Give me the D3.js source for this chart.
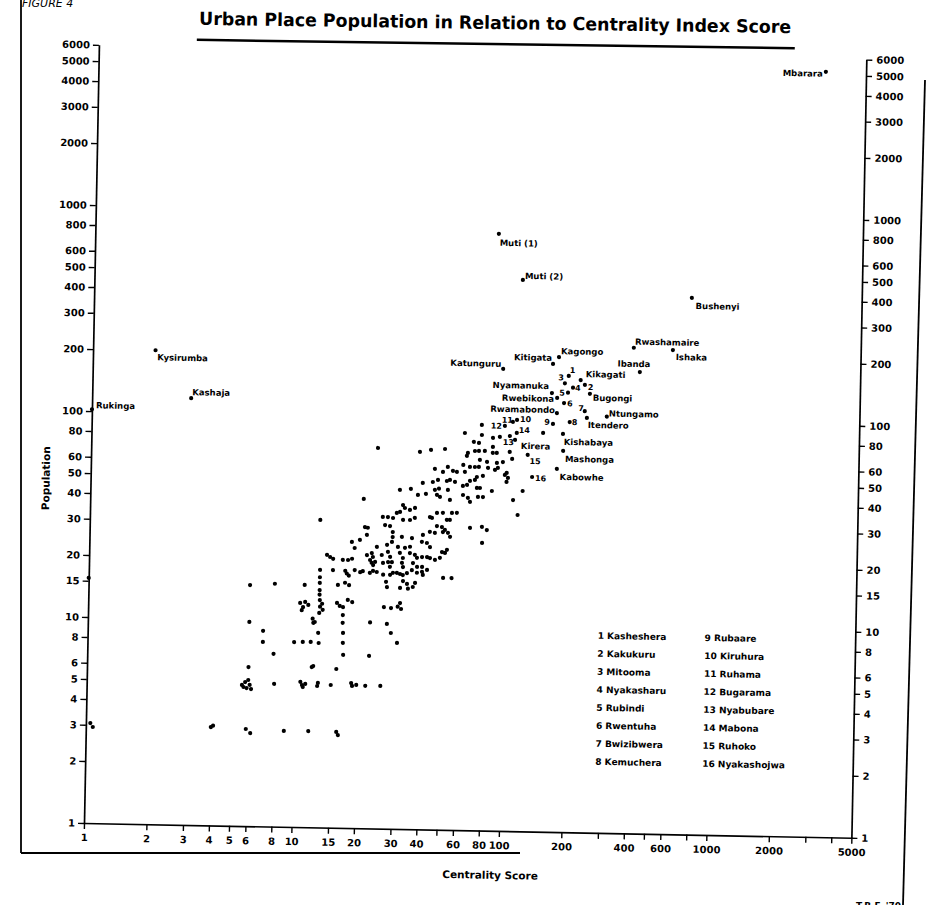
<!DOCTYPE html>
<meta charset="utf-8">
<script src="https://d3js.org/d3.v7.min.js"></script>
<style>
  body { margin: 0; background: #fff; }
  text { font-family: "DejaVu Sans", sans-serif; font-weight: bold; fill: #000; }
</style>
<svg id="chart" width="926" height="905"></svg>
<script>

// ---- data: [centrality score, population] ----
const yTicks = [1,2,3,4,5,6,8,10,15,20,30,40,50,60,80,100,200,300,400,500,600,800,1000,2000,3000,4000,5000,6000];
const xTicks = [1,2,3,4,5,6,8,10,15,20,30,40,50,60,80,100,200,300,400,500,600,800,1000,2000,3000,4000,5000];
const xTickLabels = [1,2,3,4,5,6,8,10,15,20,30,40,60,80,100,200,400,600,1000,2000,5000];

const towns = [
  [1.05,3.06],[1.08,2.93],[1,15.5],
  [4,3],[4.1,3.05],[5.9,2.96],[6.2,2.83],[9,2.92],[11.8,2.93],[16.1,2.92],[16.4,2.82],
  [5.6,4.84],[5.8,5.0],[6.0,5.12],[6.1,4.85],[5.9,4.68],[6.2,4.63],[5.7,4.73],
  [8,4.93],[10.7,5.07],[10.9,4.9],[11.3,4.96],[11,4.79],[12.9,4.86],[13,5.03],[15,4.93],[18.8,5.06],[19,4.9],[19.9,4.96],[22,4.92],[26,4.93],
  [12.1,6.0],[12.3,6.07],[15.9,5.9],[6,5.92],
  [7.9,6.9],[7,7.86],[7,8.9],[6,9.8],[9.9,7.9],[10.9,7.93],[11.9,7.94],[12.9,8.8],[13,7.86],
  [16.9,10.8],[16.9,9.9],[17,8.84],[17,7.91],[17.1,6.92],[22.8,6.88],[22.9,10],[27.6,9.87],[28.9,8.93],[31,8],
  [12.1,10.3],[12.2,9.83],[12.4,9.93],
  [10.5,12.25],[11.1,12.4],[10.85,11.7],[11.5,12.0],[10.7,11.3],[13.1,11.8],[13.4,12.2],[13.5,11.4],[13,11],
  [15.8,12.35],[16.3,11.95],[16.9,11.8],[17.8,12.8],[18.7,12.5],[26.6,11.9],[28.8,11.8],[31,12],[31.8,12.5],[32.2,11.7],
  [13,17.8],[13,16.4],[13,15.4],[13,14.2],[13,13.5],[13.05,12.7],
  [15,17.8],[17.2,17.7],[17.5,17.2],[17.9,16.8],[19.1,17.9],[20.3,17.5],[20.9,17.7],
  [15.9,15.1],[17.2,15.5],[18,15.1],
  [6,14.8],[7.9,15.1],[11,15],
  [27.1,15.8],[27.4,14.9],[31.7,14.8],[32.7,16],[34.2,15.5],[34.6,14.7],[36.5,15],[37.4,15.7],
  [51,16.7],[56,16.7],
  [22.6,17.4],[23.4,17.8],[24.4,17.6],[26.2,17.1],[28.3,17.1],[29.2,17.5],[30.5,17.5],[31.6,17.3],[32.6,17.1],[34.1,17.5],[36,18.1],[38.1,17.6],[40.3,17.8],[40.7,17.2],
  [26.1,19.5],[27.6,19.7],[28.2,18.7],[32.2,19.6],[32.6,18.7],[36.4,19.6],[38.1,18.8],[40.3,18.8],[42.6,18.2],[22.6,20.1],[23.9,19.7],[23.4,19],[23,19.5],
  [16.7,20],[17.7,20],[18.5,20.3],[14,21.1],[14.5,20.6],[15,20.2],
  [21.8,21.2],[23,21.7],[23.3,20.8],[25.7,21.3],[27.5,22.1],[28.2,20.9],[28.8,19.7],
  [31.4,21.9],[32.5,20.7],[35.1,21.9],[37.1,21.5],[38,20.8],[40.2,21],[42.5,21],[43.9,20.8],[46.4,20.4],[49,20.9],[52.9,22.9],[50.1,22.3],[51.8,22.1],
  [30.7,23.4],[33.2,23.2],[35.1,23.5],[24.3,23.3],[27.2,23.9],[19,22.9],[43.8,23.5],[18.4,24.5],[20.1,25.1],[40,24.9],[42.3,24.6],[78,24.9],
  [28.9,27.6],[28.9,26.1],[28.7,24.7],[32,26.2],[35.8,25.9],[40.4,26.9],[43.6,27.9],[46.1,27.6],[50.4,27.9],[53.3,27.7],[54.6,26.5],
  [21.2,29],[21.9,28.8],[21.7,26.6],[26.5,29.8],[28,29.5],[47.1,29.8],[49.8,29.5],[51.5,28.6],[68,29.4],[77.6,29.8],[82,28.8],
  [32.3,31.7],[34.9,31.7],[36.8,32.5],[52.5,32],[54.3,32],[115,34.3],[12.9,31.1],[25.8,32.6],[27.3,32.6],[28.9,32.3],[43.5,32.9],[44.5,32.6],
  [47,34.5],[50.2,34.6],[55.5,34.6],[58.6,34.7],
  [32.2,37.4],[32.9,36.2],[36.8,36.3],[34.8,35.5],[31.2,34.6],[30.1,34.2],[20.8,39.7],
  [62.5,42.4],[66,41.1],[67.6,39.3],[73.8,41.6],[78,41.6],[37.9,42],[41.4,42.6],[46.8,42.2],[48.4,41.3],[54.1,40],[109,40.5],
  [31,44.3],[35,44.9],[45.7,44.6],[47.8,45.3],[52.8,44.7],[72.8,46],[75.3,46],[86,44.6],[121,44.9],[62.3,46.9],[65.2,47.5],
  [67.3,49.7],[71.1,50.3],[39.9,48.1],[44.6,48.7],[47.2,49.9],[52.1,49.4],[53.9,50],[57,49],[101,49.5],[102.5,51.8],[99,53.5],[72.6,52],[77.6,52.7],
  [62.3,59.3],[67.1,58.1],[70.9,58.1],[74.1,58.2],[52.5,57.8],[55.6,55.4],[58.1,54.8],[45.5,56.4],[49.8,54.6],[82,57.7],[88.6,56.5],[91.5,57.8],[101,54.8],[63.5,54.9],
  [74.8,63],[81,61.7],[107,64.1],[90.4,61.1],[96.6,61.8],[64.7,65.7],[65.4,67.9],[70.7,69.5],[73.9,69.6],[78.9,69.7],[86.2,68.3],[90.1,68.3],[24.1,70.4],[38.4,68],[43.4,69.7],[50.7,70.6],[104,69.3],
  [69.7,76.9],[73.8,76.1],[86.2,73],[63,84.8],[76.1,83.2],[86.1,80.8],[103.8,82.8],[75.9,93.1],[150,86.3]
];

const namedTowns = [
  ["Mbarara",3200,5190],["Muti (1)",88,791],["Muti (2)",116,475],["Bushenyi",759,403],
  ["Rwashamaire",403,228],["Ishaka",622,224],["Kagongo",176,202],["Kitigata",165,187],
  ["Katunguru",95,175],["Ibanda",433,174],["Kikagati",225,157],["Nyamanuka",164,135],
  ["Rwebikona",174,128],["Bugongi",250,135],["Rwamabondo",174,108],["Ntungamo",303,105],
  ["Itendero",243,103],["Kishabaya",187,85.7],["Kirera",110,79.4],["Mashonga",188,70.9],
  ["Kabowhe",176,57.9],["Kysirumba",2,200],["Kashaja",3,118],["Rukinga",1,102]
];

const numberedTowns = [
  [1,197,164],[2,236,149],[3,189,151],[4,207,144],[5,196,136],[6,188,121],[7,237,111],[8,201,98],
  [9,167,95.6],[10,112,99.2],[11,107,97],[12,98,92.6],[13,92.9,81.8],[14,112,85.8],[15,127,67.3],[16,134,52.6]
];

const legendNames = ["Kasheshera","Kakukuru","Mitooma","Nyakasharu","Rubindi","Rwentuha","Bwizibwera","Kemuchera",
  "Rubaare","Kiruhura","Ruhama","Bugarama","Nyabubare","Mabona","Ruhoko","Nyakashojwa"];

// label placement next to the dots: [dx, dy, anchor]
const labelOffset = {
  "Mbarara":[-3,5,"end"], "Muti (1)":[1,12,"start"], "Muti (2)":[2,-1,"start"], "Bushenyi":[4,11,"start"],
  "Rwashamaire":[1,-3,"start"], "Ishaka":[3,10,"start"], "Kagongo":[2,-3,"start"], "Kitigata":[-1,-3,"end"],
  "Katunguru":[-2,-2,"end"], "Ibanda":[-6,-5,"middle"], "Kikagati":[5,-3,"start"], "Nyamanuka":[-3,-4,"end"],
  "Rwebikona":[-3,4,"end"], "Bugongi":[3,7,"start"], "Rwamabondo":[-2,0,"end"], "Ntungamo":[2,0,"start"],
  "Itendero":[1,10,"start"], "Kishabaya":[1,11,"start"], "Kirera":[6,9,"start"], "Mashonga":[2,11,"start"],
  "Kabowhe":[3,11,"start"], "Kysirumba":[2,10,"start"], "Kashaja":[1,-3,"start"], "Rukinga":[4,-1,"start"]
};
const numberOffset = {
  1:[1,-3,"start"], 2:[3,5,"start"], 3:[-1,-3,"end"], 4:[2,3,"start"], 5:[-3,3,"end"], 6:[3,3,"start"],
  7:[-1,0,"end"], 8:[2,3,"start"], 9:[-3,1,"end"], 10:[3,2,"start"], 11:[0,1,"end"], 12:[-3,3,"end"],
  13:[3,8,"start"], 14:[2,0,"start"], 15:[2,9,"start"], 16:[3,4,"start"]
};

// ---- scales (log-log paper) ----
const svg = d3.select("#chart");
const x = d3.scaleLog().domain([1, 5000]).range([84, 84 + 207.5 * Math.log10(5000)]);
const y = d3.scaleLog().domain([1, 6000]).range([823, 823 - 206 * Math.log10(6000)]);

// the scan is tilted slightly clockwise
const g = svg.append("g").attr("transform", "rotate(1.1, 84, 823)");

function styleAxis(sel) {
  sel.attr("font-family", "DejaVu Sans").attr("font-size", 10).attr("font-weight", "bold");
  sel.select(".domain").attr("stroke-width", 1.7);
  sel.selectAll(".tick line").attr("stroke-width", 1.4);
}

g.append("g")
    .attr("transform", `translate(${x(1)},0)`)
    .call(d3.axisLeft(y).tickValues(yTicks).tickFormat(d3.format("d")).tickSize(6).tickSizeOuter(0).tickPadding(3))
    .call(styleAxis);

g.append("g")
    .attr("transform", `translate(${x(5000)},0)`)
    .call(d3.axisRight(y).tickValues(yTicks).tickFormat(d3.format("d")).tickSize(6).tickSizeOuter(0).tickPadding(4))
    .call(styleAxis);

g.append("g")
    .attr("transform", `translate(0,${y(1)})`)
    .call(d3.axisBottom(x).tickValues(xTicks)
      .tickFormat(d => xTickLabels.includes(d) ? d : "")
      .tickSize(6).tickSizeOuter(0).tickPadding(5))
    .call(styleAxis);

// ---- points ----
g.append("g")
  .selectAll("circle")
  .data(towns)
  .join("circle")
    .attr("cx", d => x(d[0]))
    .attr("cy", d => y(d[1]))
    .attr("r", 2.1)
    .attr("fill", "#000");

const named = g.append("g");
named.selectAll("circle")
  .data(namedTowns)
  .join("circle")
    .attr("cx", d => x(d[1]))
    .attr("cy", d => y(d[2]))
    .attr("r", 2.1);
named.selectAll("text")
  .data(namedTowns)
  .join("text")
    .attr("x", d => x(d[1]) + labelOffset[d[0]][0])
    .attr("y", d => y(d[2]) + labelOffset[d[0]][1])
    .attr("text-anchor", d => labelOffset[d[0]][2])
    .style("font-size", "8.5px")
    .text(d => d[0]);

const numbered = g.append("g");
numbered.selectAll("circle")
  .data(numberedTowns)
  .join("circle")
    .attr("cx", d => x(d[1]))
    .attr("cy", d => y(d[2]))
    .attr("r", 2.1);
numbered.selectAll("text")
  .data(numberedTowns)
  .join("text")
    .attr("x", d => x(d[1]) + numberOffset[d[0]][0])
    .attr("y", d => y(d[2]) + numberOffset[d[0]][1])
    .attr("text-anchor", d => numberOffset[d[0]][2])
    .style("font-size", "8px")
    .text(d => d[0]);

// ---- key to the numbered places ----
g.append("g")
  .selectAll("text")
  .data(legendNames)
  .join("text")
    .attr("x", (d, i) => i < 8 ? 594 : 701)
    .attr("y", (d, i) => 629 + (i % 8) * 18)
    .style("font-size", "9px")
    .text((d, i) => (i + 1) + " " + d);

// ---- axis titles ----
g.append("text")
    .attr("x", 491)
    .attr("y", 871)
    .attr("text-anchor", "middle")
    .style("font-size", "10.5px")
    .text("Centrality Score");

g.append("text")
    .attr("transform", "translate(43,479) rotate(-90)")
    .attr("text-anchor", "middle")
    .style("font-size", "10.5px")
    .text("Population");

// ---- title ----
const head = svg.append("g").attr("transform", "rotate(0.8, 495, 30)");
head.append("text")
    .attr("x", 495)
    .attr("y", 29)
    .attr("text-anchor", "middle")
    .attr("textLength", 592)
    .attr("lengthAdjust", "spacingAndGlyphs")
    .style("font-size", "18px")
    .text("Urban Place Population in Relation to Centrality Index Score");
head.append("line")
    .attr("x1", 197).attr("x2", 795)
    .attr("y1", 44).attr("y2", 44)
    .attr("stroke", "#000").attr("stroke-width", 2.5);

svg.append("text")
    .attr("x", 22)
    .attr("y", 7)
    .style("font-size", "11px")
    .style("font-weight", "normal")
    .style("font-style", "italic")
    .text("FIGURE 4");

svg.append("text")
    .attr("x", 856)
    .attr("y", 909)
    .style("font-size", "9px")
    .text("T.B.F. '70");

// ---- frame of the sheet ----
const frame = svg.append("g").attr("stroke", "#000").attr("stroke-width", 1.8);
frame.append("line").attr("x1", 21).attr("y1", 0).attr("x2", 21).attr("y2", 853);
frame.append("line").attr("x1", 21).attr("y1", 853).attr("x2", 520).attr("y2", 853);
frame.append("line").attr("x1", 925).attr("y1", 80).attr("x2", 903).attr("y2", 905);

</script>
